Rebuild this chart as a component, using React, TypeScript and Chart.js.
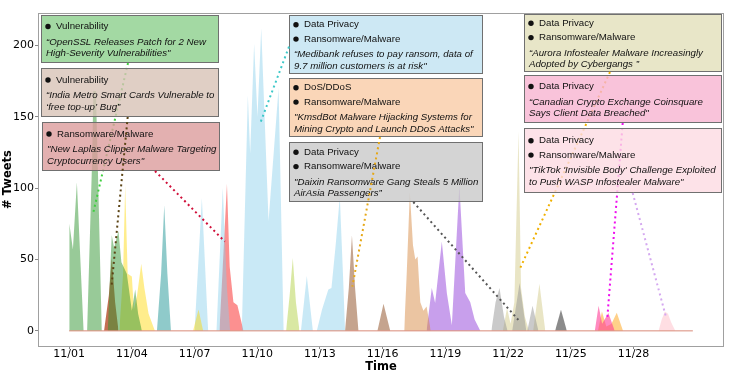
import React, { useEffect, useRef } from 'react';
import { Chart, registerables } from 'chart.js';
Chart.register(...registerables);

// x values are days since 11/01 00:00
const tickDays = [0, 3, 6, 9, 12, 15, 18, 21, 24, 27];
const tickLabels = ['11/01', '11/04', '11/07', '11/10', '11/13', '11/16', '11/19', '11/22', '11/25', '11/28'];
const yTickValues = [0, 50, 100, 150, 200];

const baselineDays = [0, 29.84];
const baselineVals = [0, 0];

const vulnDays = [0, 0.01, 0.18, 0.37, 0.69, 0.86, 1.1, 1.16, 1.28, 1.38, 1.56, 1.85, 2.0, 2.04, 2.15, 2.22, 2.36, 2.5, 2.76, 3.0, 3.16, 3.3, 3.48];
const vulnVals = [0, 75, 57, 104, 0, 0, 120, 168, 168, 110, 0, 0, 55, 67, 58, 62, 70, 48, 40, 14, 29, 12, 0];

const laplasEarlyDays = [1.67, 1.9, 2.04, 2.2, 2.36];
const laplasEarlyVals = [0, 25, 51, 20, 0];

const yellowDays = [2.4, 2.58, 2.68, 2.8, 3.0, 3.1, 3.25, 3.45, 3.6, 3.8, 4.1, 5.93, 6.19, 6.41];
const yellowVals = [0, 40, 102, 40, 38, 15, 25, 47, 30, 12, 0, 0, 15, 0];

const tealDays = [4.2, 4.4, 4.55, 4.7, 4.87];
const tealVals = [0, 40, 88, 40, 0];

const medibankDays = [6.0, 6.35, 6.65, 7.05, 7.35, 7.55, 7.7, 8.26, 8.55, 8.66, 8.85, 9.01, 9.19, 9.54, 10.02, 10.26, 11.09, 11.37, 11.66, 11.85, 12.1, 12.4, 12.55, 12.75, 12.95, 13.1, 13.2];
const medibankVals = [0, 93, 0, 0, 100, 30, 0, 0, 165, 124, 201, 150, 212, 77, 170, 0, 0, 38.5, 0, 0, 15, 29, 30, 60, 94, 40, 0];

const laplasDays = [7.19, 7.35, 7.55, 7.68, 7.86, 8.05, 8.34];
const laplasVals = [0, 45, 103, 45, 20, 18, 0];

const limeDays = [10.38, 10.55, 10.7, 10.85, 11.02];
const limeVals = [0, 25, 51, 20, 0];

const kmsdDays = [13.2, 13.38, 13.53, 13.68, 13.84, 14.75, 15.04, 15.36];
const kmsdVals = [0, 30, 67, 30, 0, 0, 19, 0];

const tanDays = [16.03, 16.15, 16.3, 16.45, 16.56, 16.67, 16.8, 16.95, 17.1, 17.3];
const tanVals = [0, 40, 97, 60, 50, 52, 20, 14, 17, 0];

const purpleDays = [17.1, 17.35, 17.51, 17.83, 18.07, 18.31, 18.67, 18.95, 19.19, 19.4, 19.67];
const purpleVals = [0, 30, 19.5, 62.5, 26.5, 4, 102, 26.5, 20, 8, 0];

const daixinDays = [20.2, 20.4, 20.59, 20.8, 20.97, 21.2, 21.55, 21.87, 21.92, 22.17, 22.45];
const daixinVals = [0, 20, 30, 10, 0, 0, 33.5, 0, 0, 17.5, 0];

const auroraDays = [20.75, 20.95, 21.12, 21.3, 21.5, 21.62, 21.8, 22.0, 22.2, 22.5, 22.78];
const auroraVals = [0, 16, 5, 20, 140, 30, 10, 0, 0, 33, 0];

const darkDays = [23.25, 23.53, 23.81];
const darkVals = [0, 14.7, 0];

const coinsquareDays = [25.15, 25.33, 25.5, 25.8, 26.1];
const coinsquareVals = [0, 17.5, 5, 12.5, 0];

const orangeDays = [25.3, 25.49, 25.7, 25.95, 26.2, 26.5];
const orangeVals = [0, 13.5, 3, 5, 12.6, 0];

const tiktokDays = [28.2, 28.35, 28.5, 28.65, 28.8, 29.0];
const tiktokVals = [0, 8, 13.5, 12, 6, 0];

const seriesList = [
  { days: vulnDays, vals: vulnVals, color: 'rgba(50,150,50,0.5)' },
  { days: laplasEarlyDays, vals: laplasEarlyVals, color: 'rgba(170,50,10,0.7)' },
  { days: yellowDays, vals: yellowVals, color: 'rgba(255,215,0,0.45)' },
  { days: tealDays, vals: tealVals, color: 'rgba(32,150,150,0.5)' },
  { days: medibankDays, vals: medibankVals, color: 'rgba(135,206,235,0.45)' },
  { days: laplasDays, vals: laplasVals, color: 'rgba(250,70,70,0.6)' },
  { days: limeDays, vals: limeVals, color: 'rgba(170,205,50,0.45)' },
  { days: kmsdDays, vals: kmsdVals, color: 'rgba(150,90,50,0.55)' },
  { days: tanDays, vals: tanVals, color: 'rgba(215,140,70,0.5)' },
  { days: purpleDays, vals: purpleVals, color: 'rgba(155,80,220,0.55)' },
  { days: daixinDays, vals: daixinVals, color: 'rgba(150,150,150,0.5)' },
  { days: auroraDays, vals: auroraVals, color: 'rgba(200,190,110,0.4)' },
  { days: darkDays, vals: darkVals, color: 'rgba(90,90,90,0.7)' },
  { days: coinsquareDays, vals: coinsquareVals, color: 'rgba(255,60,150,0.6)' },
  { days: orangeDays, vals: orangeVals, color: 'rgba(255,170,40,0.55)' },
  { days: tiktokDays, vals: tiktokVals, color: 'rgba(255,182,193,0.45)' },
];

const notes = [
  { topics: ['Vulnerability'], quote: ['\u201COpenSSL Releases Patch for 2 New', 'High-Severity Vulnerabilities"'], box: [41, 15, 178, 48], fill: 'rgba(140,207,140,0.8)', from: [128, 63], to: [1.15, 82.5], lineColor: '#3fcf3f' },
  { topics: ['Vulnerability'], quote: ['\u201CIndia Metro Smart Cards Vulnerable to', '\u2018free top-up\u2019 Bug\u201D'], box: [41, 68, 178, 49], fill: 'rgba(216,195,182,0.8)', from: [127.7, 117], to: [2.03, 31.5], lineColor: '#5c4415' },
  { topics: ['Ransomware/Malware'], quote: ['"New Laplas Clipper Malware Targeting', 'Cryptocurrency Users"'], box: [42, 122, 178, 49], fill: 'rgba(220,156,156,0.8)', from: [155, 171], to: [7.45, 62.5], lineColor: '#d0103a' },
  { topics: ['Data Privacy', 'Ransomware/Malware'], quote: ['\u201CMedibank refuses to pay ransom, data of', '9.7 million customers is at risk"'], box: [289, 15, 194, 59], fill: 'rgba(192,226,241,0.8)', from: [289, 46.7], to: [9.13, 145], lineColor: '#3cc8c8' },
  { topics: ['DoS/DDoS', 'Ransomware/Malware'], quote: ['"KmsdBot Malware Hijacking Systems for', 'Mining Crypto and Launch DDoS Attacks"'], box: [289, 78, 194, 59], fill: 'rgba(249,204,166,0.8)', from: [380, 137], to: [13.55, 31], lineColor: '#e6a817' },
  { topics: ['Data Privacy', 'Ransomware/Malware'], quote: ['"Daixin Ransomware Gang Steals 5 Million', 'AirAsia Passengers\u201D'], box: [289, 142, 194, 60], fill: 'rgba(201,201,201,0.8)', from: [413.3, 202], to: [21.49, 7.7], lineColor: '#555555' },
  { topics: ['Data Privacy', 'Ransomware/Malware'], quote: ['\u201CAurora Infostealer Malware Increasingly', 'Adopted by Cybergangs \u201D'], box: [524, 14, 198, 58], fill: 'rgba(226,224,186,0.8)', from: [610, 72], to: [21.58, 44], lineColor: '#f0b000' },
  { topics: ['Data Privacy'], quote: ['\u201CCanadian Crypto Exchange Coinsquare', 'Says Client Data Breached"'], box: [524, 75, 198, 48], fill: 'rgba(247,180,209,0.8)', from: [622.7, 123], to: [25.74, 7.7], lineColor: '#ee10ee' },
  { topics: ['Data Privacy', 'Ransomware/Malware'], quote: ['"TikTok \'Invisible Body\' Challenge Exploited', 'to Push WASP Infostealer Malware"'], box: [524, 128, 198, 65], fill: 'rgba(252,219,226,0.8)', from: [632.7, 193], to: [28.55, 10], lineColor: '#d4a8f0' },
];

const drawOrder: Array<[string, number]> = [
  ['b', 0], ['l', 0], ['b', 1], ['b', 2], ['l', 1], ['l', 2],
  ['b', 3], ['l', 3], ['b', 5], ['l', 5], ['b', 4], ['l', 4],
  ['b', 6], ['l', 6], ['b', 7], ['l', 7], ['b', 8], ['l', 8],
];

const FONT = '"Liberation Sans", Arial, sans-serif';
const NOTE_SIZE = 9.7;

function drawBox(ctx: CanvasRenderingContext2D, n: any) {
  const [bx, by, bw, bh] = n.box;
  ctx.save();
  ctx.fillStyle = n.fill;
  ctx.fillRect(bx, by, bw, bh);
  ctx.strokeStyle = '#707070';
  ctx.lineWidth = 1;
  ctx.strokeRect(bx + 0.5, by + 0.5, bw - 1, bh - 1);
  const span = 14.3 * (n.topics.length - 1) + 15.5 + 11.6 * (n.quote.length - 1);
  const y0 = by + (bh - span) / 2 + 1;
  ctx.fillStyle = '#111';
  ctx.textBaseline = 'middle';
  ctx.textAlign = 'left';
  ctx.font = NOTE_SIZE + 'px ' + FONT;
  n.topics.forEach((t: string, i: number) => {
    const ty = y0 + 14.3 * i;
    ctx.beginPath();
    ctx.arc(bx + 7, ty, 2.7, 0, Math.PI * 2);
    ctx.fill();
    ctx.fillText(t, bx + 15, ty);
  });
  const qy = y0 + 14.3 * (n.topics.length - 1) + 15.5;
  ctx.font = 'italic ' + NOTE_SIZE + 'px ' + FONT;
  n.quote.forEach((q: string, j: number) => ctx.fillText(q, bx + 5, qy + 11.6 * j));
  ctx.restore();
}

function drawLink(ctx: CanvasRenderingContext2D, n: any, xs: any, ys: any) {
  const x1 = xs.getPixelForValue(n.to[0]);
  const y1 = ys.getPixelForValue(n.to[1]);
  ctx.save();
  ctx.strokeStyle = n.lineColor;
  ctx.lineWidth = 2;
  ctx.setLineDash([2, 3.2]);
  ctx.beginPath();
  ctx.moveTo(n.from[0], n.from[1]);
  ctx.lineTo(x1, y1);
  ctx.stroke();
  ctx.restore();
}

const notesPlugin = {
  id: 'notes',
  afterDatasetsDraw(chart: any) {
    const ctx = chart.ctx as CanvasRenderingContext2D;
    const { left, top, right, bottom } = chart.chartArea;
    ctx.save();
    ctx.strokeStyle = '#a0a0a0';
    ctx.lineWidth = 1;
    ctx.strokeRect(Math.round(left) + 0.5, Math.round(top) + 0.5, Math.round(right - left) - 1, Math.round(bottom - top));
    ctx.restore();
    const xs = chart.scales.x;
    const ys = chart.scales.y;
    for (const [kind, i] of drawOrder) {
      if (kind === 'b') drawBox(ctx, notes[i]);
      else drawLink(ctx, notes[i], xs, ys);
    }
  },
};

export default function App() {
  const ref = useRef<HTMLCanvasElement>(null);
  useEffect(() => {
    if (!ref.current) return;
    const datasets: any[] = [
      {
        data: baselineDays.map((d, i) => ({ x: d, y: baselineVals[i] })),
        borderColor: '#d98a78',
        borderWidth: 1,
        fill: false,
        pointRadius: 0,
      },
      ...seriesList.map((s) => ({
        data: s.days.map((d, i) => ({ x: d, y: s.vals[i] })),
        backgroundColor: s.color,
        borderColor: 'rgba(0,0,0,0)',
        borderWidth: 0,
        fill: 'origin',
        pointRadius: 0,
        tension: 0,
      })),
    ];
    const tickFont = { family: 'DejaVu Sans', size: 11, lineHeight: 1 };
    const titleFont = { family: 'DejaVu Sans', size: 11.5, weight: 'bold' as const, lineHeight: 1 };
    const chart = new Chart(ref.current, {
      type: 'line',
      data: { datasets },
      options: {
        responsive: false,
        animation: false,
        devicePixelRatio: 1,
        layout: { padding: { top: 13, right: 23, left: 0, bottom: 0 } },
        plugins: { legend: { display: false }, tooltip: { enabled: false } },
        scales: {
          x: {
            type: 'linear',
            min: -1.49,
            max: 31.33,
            afterBuildTicks: (s: any) => { s.ticks = tickDays.map((v) => ({ value: v })); },
            afterFit: (s: any) => { s.height = 27; },
            ticks: {
              callback: (_v: any, i: number) => tickLabels[i],
              font: tickFont,
              color: '#000',
              padding: 0,
              maxRotation: 0,
              autoSkip: false,
            },
            grid: { drawOnChartArea: false, tickLength: 3, color: '#888' },
            border: { display: false },
            title: { display: true, text: 'Time', font: titleFont, color: '#000', padding: 0 },
          },
          y: {
            type: 'linear',
            min: -10.6,
            max: 222.6,
            afterBuildTicks: (s: any) => { s.ticks = yTickValues.map((v) => ({ value: v })); },
            afterFit: (s: any) => { s.width = 38; },
            ticks: { font: tickFont, color: '#000', padding: 1 },
            grid: { drawOnChartArea: false, tickLength: 3, color: '#888' },
            border: { display: false },
            title: { display: true, text: '# Tweets', font: titleFont, color: '#000', padding: { top: 2, bottom: 0 } },
          },
        },
      },
      plugins: [notesPlugin],
    } as any);
    return () => chart.destroy();
  }, []);
  return (
    <div style={{ position: 'absolute', left: 0, top: 0, width: 747, height: 373, background: '#fff' }}>
      <canvas ref={ref} width={747} height={373} style={{ display: 'block' }} />
    </div>
  );
}
